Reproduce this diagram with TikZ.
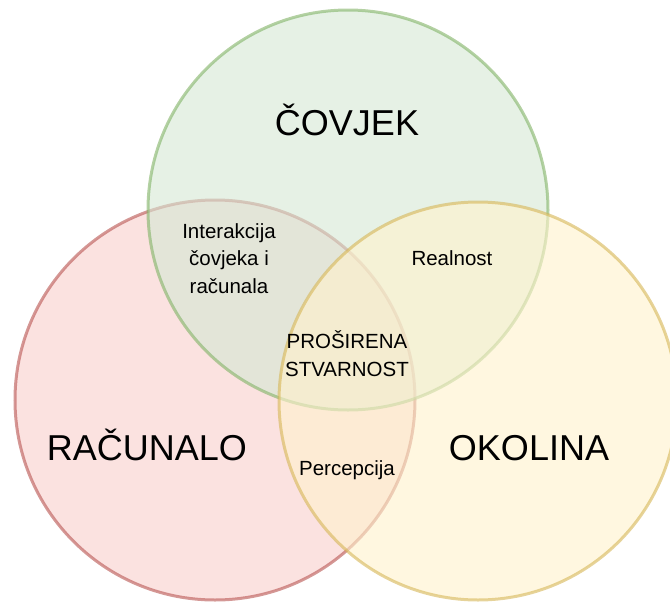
\documentclass[tikz,border=0pt]{standalone}
\usepackage{fontspec}
\setmainfont{Liberation Sans}
\definecolor{redline}{RGB}{184,84,80}
\definecolor{redfill}{RGB}{248,206,204}
\definecolor{greenline}{RGB}{130,179,102}
\definecolor{greenfill}{RGB}{213,232,212}
\definecolor{yellowline}{RGB}{214,182,86}
\definecolor{yellowfill}{RGB}{255,242,204}
\begin{document}
\begin{tikzpicture}[x=1pt,y=-1pt,
  set/.style={line width=3pt,opacity=0.6},
  big/.style={font=\fontsize{36}{40}\selectfont,anchor=base},
  small/.style={font=\fontsize{20.5}{27.5}\selectfont,align=center,anchor=base}]
\useasboundingbox (0,0) rectangle (670,603);
\clip (0,0) rectangle (670,603);
% the three sets
\filldraw[set,draw=redline,fill=redfill] (215,400) circle[radius=200];
\filldraw[set,draw=greenline,fill=greenfill] (348,210) circle[radius=200];
\filldraw[set,draw=yellowline,fill=yellowfill] (478,401) circle[radius=199];
% names
\node[big] (covjek) at (347,135) {ČOVJEK};
\node[big] (racunalo) at (147,460) {RAČUNALO};
\node[big] (okolina) at (529,460) {OKOLINA};
% overlaps (base = last line)
\node[small] (interakcija) at (229,293) {Interakcija\\čovjeka i\\računala};
\node[small] (realnost) at (452,265) {Realnost};
\node[small] (prosirena) at (347,376) {PROŠIRENA\\STVARNOST};
\node[small] (percepcija) at (347,475) {Percepcija};
\end{tikzpicture}
\end{document}
